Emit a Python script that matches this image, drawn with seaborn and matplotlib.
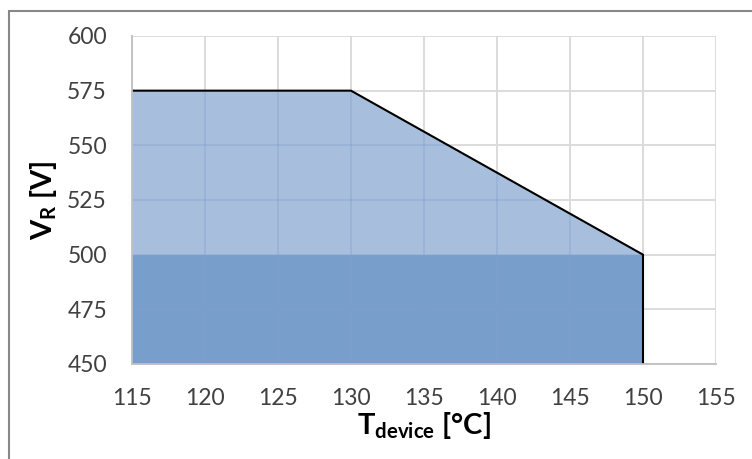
import numpy as np
import pandas as pd
import seaborn as sns
import matplotlib.pyplot as plt
from matplotlib.patches import Rectangle

# derating curve
t_device = [115, 130, 150]
v_rated = [575, 575, 500]
# base level
t_base = [115, 150]
v_base = [500, 500]

x_ticks = [115, 120, 125, 130, 135, 140, 145, 150, 155]
y_ticks = [450, 475, 500, 525, 550, 575, 600]

sns.set_theme(style="whitegrid")
plt.rcParams['font.family'] = ['Lato', 'DejaVu Sans']
plt.rcParams['mathtext.default'] = 'regular'

fig = plt.figure(figsize=(7.52, 4.59), dpi=100)
ax = fig.add_axes([132 / 752, 1 - 364 / 459, (716 - 132) / 752, (364 - 36) / 459])

df = pd.DataFrame({'T': t_device, 'V': v_rated})
ax.fill_between(t_device, 450, v_rated, color='#A7BFDD', lw=0, zorder=1)
ax.fill_between(t_base, 450, v_base, color='#789FCB', lw=0, zorder=1)

# gridlines slightly visible over fill
for x in x_ticks:
    ax.axvline(x, color='#D9D9D9', lw=1.3, zorder=0.5)
for y in y_ticks:
    ax.axhline(y, color='#D9D9D9', lw=1.3, zorder=0.5)
for x in x_ticks[1:8]:
    ax.plot([x, x], [450, np.interp(x, t_device, v_rated)], color='#7F9FC8', lw=1.2, alpha=0.4, zorder=1.5)
for y in y_ticks[1:6]:
    xmax = np.interp(y, v_rated[::-1], t_device[::-1]) if y > 500 else 150
    ax.plot([115, xmax], [y, y], color='#7F9FC8', lw=1.2, alpha=0.4, zorder=1.5)

sns.lineplot(data=df, x='T', y='V', color='black', lw=1.5, ax=ax, zorder=3)
ax.plot([150, 150], [500, 450], color='black', lw=1.5, zorder=3)

ax.grid(False)
ax.set_xlim(115, 155)
ax.set_ylim(450, 600)
ax.set_xticks(x_ticks)
ax.set_yticks(y_ticks)
ax.tick_params(axis='both', labelsize=16.5, colors='#404040', length=0)
ax.tick_params(axis='y', pad=18)
ax.tick_params(axis='x', pad=17)
for side in ['top', 'right']:
    ax.spines[side].set_visible(False)
for side in ['left', 'bottom']:
    ax.spines[side].set_color('#BFBFBF')
    ax.spines[side].set_linewidth(1.3)
    ax.spines[side].set_zorder(4)

ax.set_xlabel(r'T$_{device}$ [°C]', fontsize=21, fontweight='bold', color='black', labelpad=1)
ax.set_ylabel(r'V$_R$ [V]', fontsize=21, fontweight='bold', color='black', labelpad=6)

# chart border
fig.patches.append(Rectangle((9 / 752, -0.05), 1.0, 1 - 10.5 / 459 + 0.05, transform=fig.transFigure,
                             fill=False, edgecolor='#878787', lw=1.5))

plt.savefig('out.png', dpi=100)
